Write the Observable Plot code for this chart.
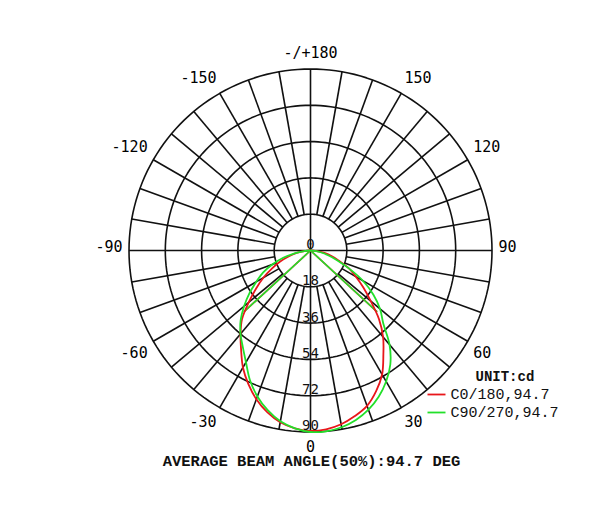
<!DOCTYPE html>
<html><head><meta charset="utf-8">
<script src="https://cdn.jsdelivr.net/npm/d3@7"></script>
<script src="https://cdn.jsdelivr.net/npm/@observablehq/plot@0.6"></script>
<style>html,body{margin:0;padding:0;background:#fff;}</style>
</head><body><div id="chart"></div>
<script>
// ---------- data ----------
const angles = [-90,-85,-80,-75,-70,-65,-60,-55,-50,-45,-40,-35,-30,-25,-20,-15,-10,-5,0,5,10,15,20,25,30,35,40,45,50,55,60,65,70,75,80,85,90];
const c0_180 = [0,3,7,11,16,21,27,33,40,48,54,60,67,73,78.5,83,86.5,88.5,89.5,89,87.5,85,82,77,71,63,56,48,39,32,26,21,15,11,7,3,0];
const c90_270 = [0,3,8,14,20,26,31,37,43,49,54,58.5,64,71,77,82,86,88.5,90,90,89,87,84,80,75,69,61,51,45,38,30,21,14,9,5,2,0];
const seriesNames = ["C0/180", "C90/270"];
const beamAngles = [94.7, 94.7];
const ringValues = [18, 36, 54, 72, 90];
const ringLabels = ["0", "18", "36", "54", "72", "90"];
const ringLabelValues = [0, 18, 36, 54, 72, 90];
const angleLabelAngles = [180, -150, -120, -90, -60, -30, 0, 30, 60, 90, 120, 150];
const angleLabels = ["-/+180", "-150", "-120", "-90", "-60", "-30", "0", "30", "60", "90", "120", "150"];
const unitLabel = "UNIT:cd";
const caption = "AVERAGE BEAM ANGLE(50%):94.7 DEG";
const maxValue = 90;

// ---------- layout ----------
const W = 600, H = 522, CX = 310, CY = 250, RPX = 181.5;
const k = RPX / maxValue;              // px per cd
const toX = px => (px - CX) / k;
const toY = px => (px - CY) / k;
const rad = d => d * Math.PI / 180;
const pol = (a, r) => ({x: r * Math.sin(rad(a)), y: r * Math.cos(rad(a))});
const colors = ["#e8161a", "#22e02a"];

// grid rings
const ringPts = [];
for (const v of ringValues) for (let a = 0; a <= 360; a += 2) ringPts.push({ring: v, ...pol(a, v)});
// spokes
const spokes = [];
for (let a = -170; a <= 180; a += 10) {
  const through = (a % 90 === 0);
  const p1 = pol(a, through ? 0 : ringValues[0]);
  const p2 = pol(a, maxValue);
  spokes.push({x1: p1.x, y1: p1.y, x2: p2.x, y2: p2.y});
}
// curves
const curvePts = [];
[c0_180, c90_270].forEach((vals, s) => vals.forEach((v, i) => curvePts.push({s: seriesNames[s], ...pol(angles[i], v)})));
// beam lines
const beams = [];
[c0_180, c90_270].forEach((vals, s) => {
  const half = d3.max(vals) / 2;
  for (const sg of [-1, 1]) {
    const p = pol(sg * beamAngles[s] / 2, half);
    beams.push({s: seriesNames[s], x1: 0, y1: 0, x2: p.x, y2: p.y});
  }
});
// angle labels
const R1 = 188 / k, DY = 9 / k;
const angLab = angleLabelAngles.map((a, i) => {
  const sn = Math.sin(rad(a)), cs = Math.cos(rad(a));
  const side = Math.abs(sn) < 1e-6 ? "middle" : (sn > 0 ? "start" : "end");
  return {label: angleLabels[i], side, x: R1 * sn, y: R1 * cs + (Math.abs(cs) < 1e-6 ? -3 / k : Math.sign(cs) * DY)};
});
const ringLab = ringLabelValues.map((v, i) => ({label: ringLabels[i], x: 0, y: v}));
// legend
const legend = seriesNames.map((n, i) => ({name: n + "," + beamAngles[i], s: n, y: toY(394 + 18 * i)}));

const mono = "'DejaVu Sans Mono', monospace";
const courier = "'Liberation Mono', 'Courier New', monospace";

const plot = Plot.plot({
  width: W, height: H,
  margin: 0,
  x: {domain: [toX(0), toX(W)], range: [0, W], axis: null},
  y: {domain: [toY(0), toY(H)], range: [0, H], axis: null},
  color: {domain: seriesNames, range: colors},
  style: {background: "#fff"},
  marks: [
    Plot.line(ringPts, {x: "x", y: "y", z: "ring", stroke: "#111", strokeWidth: 1.6}),
    Plot.link(spokes, {x1: "x1", y1: "y1", x2: "x2", y2: "y2", stroke: "#111", strokeWidth: 1.6}),
    Plot.link(beams, {x1: "x1", y1: "y1", x2: "x2", y2: "y2", stroke: "s", strokeWidth: 1.6}),
    Plot.line(curvePts, {x: "x", y: "y", z: "s", stroke: "s", strokeWidth: 1.8, curve: "catmull-rom"}),
    Plot.text(ringLab, {x: "x", y: "y", text: "label", dy: -6, fontFamily: mono, fontSize: 14, fill: "#111"}),
    ...["start", "middle", "end"].map(side => Plot.text(angLab.filter(d => d.side === side), {x: "x", y: "y", text: "label", textAnchor: side, fontFamily: mono, fontSize: 15, fill: "#000"})),
    Plot.text([caption], {x: toX(311), y: toY(461), fontFamily: courier, fontSize: 15.5, fontWeight: "bold", fill: "#111"}),
    Plot.text([unitLabel], {x: toX(475), y: toY(376), textAnchor: "start", fontFamily: courier, fontSize: 14, fontWeight: "bold", fill: "#111"}),
    Plot.link(legend, {x1: toX(427), x2: toX(445), y1: "y", y2: "y", stroke: "s", strokeWidth: 1.8}),
    Plot.text(legend, {x: toX(450), y: "y", text: "name", textAnchor: "start", fontFamily: courier, fontSize: 15, fill: "#111"})
  ]
});
document.getElementById("chart").appendChild(plot);
</script>
</body></html>
